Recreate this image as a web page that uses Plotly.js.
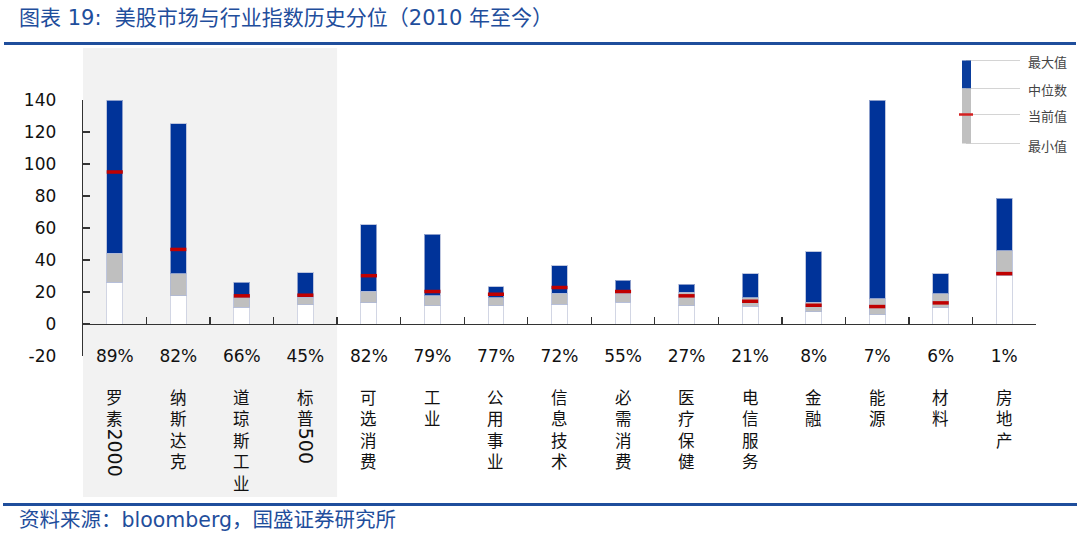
<!DOCTYPE html>
<html>
<head>
<meta charset="utf-8">
<script src="https://cdn.plot.ly/plotly-3.0.1.min.js"></script>
<style>html,body{margin:0;padding:0;background:#fff;}#chart{width:1080px;height:537px;}</style>
</head>
<body>
<div id="chart"></div>
<script>
// ---- data ----
var categories = ['罗素2000','纳斯达克','道琼斯工业','标普500','可选消费','工业','公用事业','信息技术','必需消费','医疗保健','电信服务','金融','能源','材料','房地产'];
var maxValues     = [140, 125.3, 26.2, 31.9, 61.9, 56.0, 23.3, 36.3, 27.3, 24.7, 31.5, 45.1, 140, 31.5, 78.7];
var medianValues  = [44.1, 31.5, 16.4, 16.8, 20.5, 17.8, 16.4, 19.3, 19.2, 19.9, 16.4, 13.6, 15.7, 18.9, 45.9];
var minValues     = [26.2, 17.8, 10.5, 11.9, 13.2, 11.5, 11.5, 12.2, 13.6, 11.5, 11.1, 7.7, 5.9, 10.1, 30.2];
var currentValues = [95.0, 46.6, 17.6, 18.0, 30.2, 20.3, 18.6, 22.8, 20.3, 17.6, 14.2, 11.7, 10.9, 13.2, 31.5];
var percentileLabels = ['89%','82%','66%','45%','82%','79%','77%','72%','55%','27%','21%','8%','7%','6%','1%'];
var yTickValues = [-20, 0, 20, 40, 60, 80, 100, 120, 140];
var yTickLabels = ['-20', '0', '20', '40', '60', '80', '100', '120', '140'];

// ---- layout geometry ----
var W = 1080, H = 537;
var M = {l: 83, r: 44, t: 100, b: 181};
var plotW = W - M.l - M.r, plotH = H - M.t - M.b;
function px(x) { return (x - M.l) / plotW; }
function py(y) { return (H - M.b - y) / plotH; }

var BLUE = '#003399', GRAY = '#bfbfbf', RED = '#c00000';
var outline = {color: 'rgba(175,185,215,0.8)', width: 1};
var numFont = 'DejaVu Sans, Noto Sans CJK SC, sans-serif';
var cjkFont = 'Noto Sans CJK SC, sans-serif';

var traces = [
  {type: 'bar', x: categories, y: minValues, width: 0.25,
   marker: {color: '#ffffff', line: {color: 'rgba(205,210,225,0.9)', width: 1}}, hoverinfo: 'skip'},
  {type: 'bar', x: categories, y: medianValues.map(function(m, i){ return m - minValues[i]; }), width: 0.25,
   marker: {color: GRAY, line: outline}, hoverinfo: 'skip'},
  {type: 'bar', x: categories, y: maxValues.map(function(m, i){ return m - medianValues[i]; }), width: 0.25,
   marker: {color: BLUE, line: outline}, hoverinfo: 'skip'},
  {type: 'scatter', mode: 'markers', x: categories, y: currentValues,
   marker: {symbol: 'line-ew', size: 11.5, line: {color: RED, width: 3.5}}, hoverinfo: 'skip', cliponaxis: false}
];

var shapes = [
  // shaded index region
  {type: 'rect', xref: 'x', yref: 'paper', x0: -0.5, x1: 3.5, y0: py(497), y1: py(48),
   fillcolor: '#f2f2f2', line: {width: 0}, layer: 'below'},
  // title rule
  {type: 'rect', xref: 'paper', yref: 'paper', x0: px(4), x1: px(1076), y0: py(45), y1: py(42),
   fillcolor: '#1f4e9c', line: {width: 0}},
  // footer rule
  {type: 'rect', xref: 'paper', yref: 'paper', x0: px(3), x1: px(1077), y0: py(506), y1: py(503),
   fillcolor: '#1f4e9c', line: {width: 0}},
  // legend graphic
  {type: 'line', xref: 'paper', yref: 'paper', x0: px(966), x1: px(1020), y0: py(60.5), y1: py(60.5), line: {color: '#d4d4d4', width: 1}},
  {type: 'line', xref: 'paper', yref: 'paper', x0: px(966), x1: px(1020), y0: py(88.5), y1: py(88.5), line: {color: '#d4d4d4', width: 1}},
  {type: 'line', xref: 'paper', yref: 'paper', x0: px(966), x1: px(1020), y0: py(114.5), y1: py(114.5), line: {color: '#d4d4d4', width: 1}},
  {type: 'line', xref: 'paper', yref: 'paper', x0: px(966), x1: px(1020), y0: py(143.5), y1: py(143.5), line: {color: '#d4d4d4', width: 1}},
  {type: 'rect', xref: 'paper', yref: 'paper', x0: px(962), x1: px(971), y0: py(88.5), y1: py(60.5),
   fillcolor: '#0a3d9c', line: {width: 0}},
  {type: 'rect', xref: 'paper', yref: 'paper', x0: px(962), x1: px(971), y0: py(143.5), y1: py(88.5),
   fillcolor: '#c0c0c0', line: {width: 0}},
  {type: 'line', xref: 'paper', yref: 'paper', x0: px(959), x1: px(973), y0: py(114.5), y1: py(114.5),
   line: {color: '#d42020', width: 2.5}}
];

var annotations = [
  {xref: 'paper', yref: 'paper', x: px(17), y: py(18), xanchor: 'left', yanchor: 'middle', showarrow: false,
   text: '图表 19:  美股市场与行业指数历史分位（2010 年至今）',
   font: {family: numFont, size: 21, color: '#1f4e9c'}},
  {xref: 'paper', yref: 'paper', x: px(17), y: py(520), xanchor: 'left', yanchor: 'middle', showarrow: false,
   text: '资料来源：bloomberg，国盛证券研究所',
   font: {family: numFont, size: 20.5, color: '#1f4e9c'}}
];
var legendNames = [['最大值', 61], ['中位数', 89], ['当前值', 115], ['最小值', 145]];
legendNames.forEach(function(n) {
  annotations.push({xref: 'paper', yref: 'paper', x: px(1026), y: py(n[1]), xanchor: 'left', yanchor: 'middle',
    showarrow: false, text: n[0], font: {family: cjkFont, size: 13, color: '#444'}});
});
categories.forEach(function(c) {
  var m = c.match(/^(\D+)(\d*)$/);
  var chars = m[1].split('');
  annotations.push({xref: 'x', yref: 'paper', x: c, y: py(383), xanchor: 'center', yanchor: 'top',
    showarrow: false, text: chars.join('<br>'), font: {family: cjkFont, size: 16.5, color: '#111'}});
  if (m[2]) {
    var top = 427;
    var len = m[2].length * 12.1;
    annotations.push({xref: 'x', yref: 'paper', x: c, y: py(top + len / 2 + 1), xanchor: 'center', yanchor: 'middle',
      showarrow: false, textangle: 90, text: m[2], font: {family: numFont, size: 19, color: '#111'}});
  }
});

var layout = {
  width: W, height: H,
  margin: M,
  paper_bgcolor: '#ffffff', plot_bgcolor: 'rgba(0,0,0,0)',
  barmode: 'stack', showlegend: false,
  xaxis: {type: 'category', anchor: 'free', position: 20 / 160,
    showline: true, linecolor: '#333', linewidth: 1.3,
    ticks: 'inside', tickson: 'boundaries', ticklen: 7, tickcolor: '#333', tickwidth: 1.3,
    tickmode: 'array', tickvals: categories, ticktext: percentileLabels,
    ticklabelstandoff: 16, tickfont: {family: numFont, size: 17, color: '#111'},
    showgrid: false, zeroline: false, range: [-0.5, 14.5]},
  yaxis: {range: [-20, 140], tickmode: 'array', tickvals: yTickValues, ticktext: yTickLabels,
    showline: true, linecolor: '#333', linewidth: 1.3,
    ticks: 'inside', ticklen: 7, tickcolor: '#333', tickwidth: 1.3,
    ticklabelstandoff: 22, tickfont: {family: numFont, size: 17, color: '#111'},
    showgrid: false, zeroline: false},
  shapes: shapes,
  annotations: annotations
};

Plotly.newPlot('chart', traces, layout, {staticPlot: true, displayModeBar: false});
</script>
</body>
</html>
